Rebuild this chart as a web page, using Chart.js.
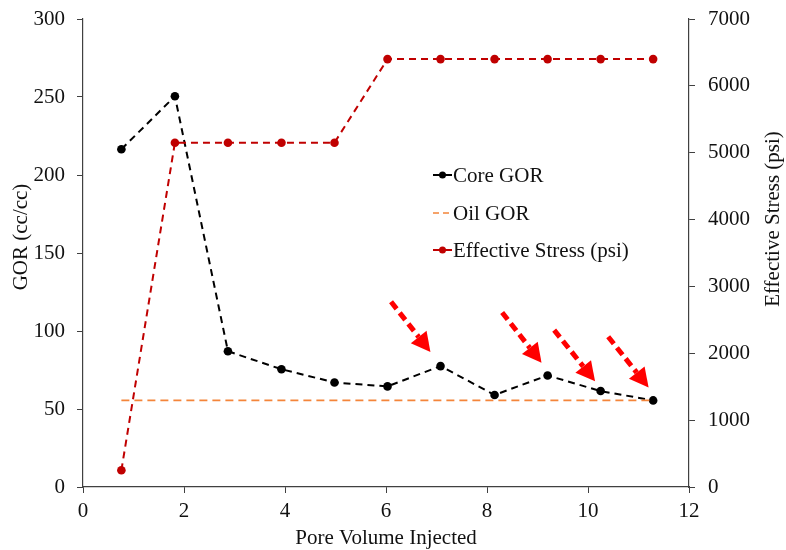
<!DOCTYPE html>
<html>
<head>
<meta charset="utf-8">
<script src="https://cdn.jsdelivr.net/npm/chart.js@4"></script>
<style>
  html, body { margin: 0; padding: 0; background: #ffffff; }
  #wrap { width: 786px; height: 550px; }
</style>
</head>
<body>
<div id="wrap"><canvas id="c" width="786" height="550"></canvas></div>
<script>
// ---- data ----
const poreVolume = [0.76, 1.82, 2.87, 3.93, 4.98, 6.03, 7.08, 8.15, 9.2, 10.25, 11.29];
const coreGor = [216.5, 250.5, 87, 75.5, 67, 64.5, 77.5, 59, 71.5, 61.5, 55.5];
const effectiveStress = [250, 5150, 5150, 5150, 5150, 6400, 6400, 6400, 6400, 6400, 6400];
const oilGor = 55.5;
const xTicks = [0, 2, 4, 6, 8, 10, 12];
const gorTicks = [0, 50, 100, 150, 200, 250, 300];
const stressTicks = [0, 1000, 2000, 3000, 4000, 5000, 6000, 7000];
const seriesNames = ['Core GOR', 'Oil GOR', 'Effective Stress (psi)'];
const axisTitles = { x: 'Pore Volume Injected', y: 'GOR (cc/cc)', y1: 'Effective Stress (psi)' };
// annotation arrows (tail -> tip) in data units of x / GOR axis
const arrowTailX = [6.10, 8.30, 9.33, 10.40];
const arrowTailY = [118.7, 111.9, 100.6, 96.3];
const arrowTipX = [6.88, 9.08, 10.14, 11.20];
const arrowTipY = [86.6, 79.6, 67.8, 63.8];

const FONT = '"Liberation Serif", "Times New Roman", serif';
const AXIS_COLOR = '#404040';
const TEXT_COLOR = '#111111';

const pts = (xs, ys) => xs.map((x, i) => ({ x: x, y: ys[i] }));

const customDraw = {
  id: 'customDraw',
  afterDatasetsDraw(chart) {
    const ctx = chart.ctx;
    const xs = chart.scales.x, ys = chart.scales.y;
    ctx.save();
    for (let i = 0; i < arrowTailX.length; i++) {
      const x0 = xs.getPixelForValue(arrowTailX[i]), y0 = ys.getPixelForValue(arrowTailY[i]);
      const x1 = xs.getPixelForValue(arrowTipX[i]), y1 = ys.getPixelForValue(arrowTipY[i]);
      const ang = Math.atan2(y1 - y0, x1 - x0);
      const headLen = 19, headW = 10;
      const bx = x1 - headLen * Math.cos(ang), by = y1 - headLen * Math.sin(ang);
      ctx.strokeStyle = '#FF0000';
      ctx.fillStyle = '#FF0000';
      ctx.lineWidth = 5;
      ctx.setLineDash([9, 5]);
      ctx.beginPath();
      ctx.moveTo(x0, y0);
      ctx.lineTo(bx, by);
      ctx.stroke();
      ctx.setLineDash([]);
      ctx.beginPath();
      ctx.moveTo(x1, y1);
      ctx.lineTo(bx + headW * Math.sin(ang), by - headW * Math.cos(ang));
      ctx.lineTo(bx - headW * Math.sin(ang), by + headW * Math.cos(ang));
      ctx.closePath();
      ctx.fill();
    }
    ctx.restore();
  },
  afterDraw(chart) {
    const ctx = chart.ctx;
    ctx.save();
    ctx.fillStyle = TEXT_COLOR;
    ctx.font = '21px ' + FONT;
    ctx.textAlign = 'center';
    ctx.textBaseline = 'middle';
    ctx.fillText(axisTitles.x, 386, 538);
    ctx.save();
    ctx.translate(21, 237);
    ctx.rotate(-Math.PI / 2);
    ctx.fillText(axisTitles.y, 0, 0);
    ctx.restore();
    ctx.save();
    ctx.translate(773, 219);
    ctx.rotate(-Math.PI / 2);
    ctx.fillText(axisTitles.y1, 0, 0);
    ctx.restore();
    // legend
    const ds = chart.data.datasets;
    const lx = 433, ly = [175, 213, 250];
    ctx.textAlign = 'left';
    for (let i = 0; i < ds.length; i++) {
      const d = ds[i];
      ctx.strokeStyle = d.borderColor;
      ctx.lineWidth = d.borderWidth;
      ctx.setLineDash(i === 1 ? [6, 4] : []);
      ctx.beginPath();
      ctx.moveTo(lx, ly[i]);
      ctx.lineTo(lx + 19, ly[i]);
      ctx.stroke();
      ctx.setLineDash([]);
      if (d.pointRadius > 0) {
        ctx.fillStyle = d.pointBackgroundColor;
        ctx.beginPath();
        ctx.arc(lx + 9.5, ly[i], 3.5, 0, Math.PI * 2);
        ctx.fill();
      }
      ctx.fillStyle = TEXT_COLOR;
      ctx.fillText(d.label, lx + 20, ly[i] + 1);
    }
    ctx.restore();
  }
};

const tickFont = { family: FONT, size: 21 };
const plain = v => String(v);
const fitV = w => s => { s.width = w; s.paddingTop = 0; s.paddingBottom = 0; };

new Chart(document.getElementById('c'), {
  type: 'line',
  data: {
    datasets: [
      {
        label: seriesNames[0],
        data: pts(poreVolume, coreGor),
        yAxisID: 'y',
        borderColor: '#000000',
        backgroundColor: '#000000',
        pointBackgroundColor: '#000000',
        pointBorderColor: '#000000',
        borderWidth: 2,
        borderDash: [7, 5],
        pointRadius: 4.3,
        pointBorderWidth: 0,
        tension: 0,
        order: 3
      },
      {
        label: seriesNames[1],
        data: [{ x: poreVolume[0], y: oilGor }, { x: poreVolume[poreVolume.length - 1], y: oilGor }],
        yAxisID: 'y',
        borderColor: '#F4853A',
        backgroundColor: '#F4853A',
        borderWidth: 1.6,
        borderDash: [8, 5],
        pointRadius: 0,
        tension: 0,
        order: 2
      },
      {
        label: seriesNames[2],
        data: pts(poreVolume, effectiveStress),
        yAxisID: 'y1',
        borderColor: '#C00000',
        backgroundColor: '#C00000',
        pointBackgroundColor: '#C00000',
        pointBorderColor: '#C00000',
        borderWidth: 2,
        borderDash: [7, 5],
        pointRadius: 4.3,
        pointBorderWidth: 0,
        tension: 0,
        order: 1
      }
    ]
  },
  options: {
    responsive: false,
    animation: false,
    events: [],
    layout: { padding: { top: 19, left: 0, right: 0, bottom: 0 } },
    plugins: { legend: { display: false }, tooltip: { enabled: false }, title: { display: false } },
    scales: {
      x: {
        type: 'linear',
        min: 0, max: 12,
        afterBuildTicks: s => { s.ticks = xTicks.map(v => ({ value: v })); },
        afterFit: s => { s.height = 63; s.paddingLeft = 0; s.paddingRight = 0; },
        grid: { display: true, drawOnChartArea: false, drawTicks: true, tickLength: 6, color: AXIS_COLOR, lineWidth: 1 },
        border: { display: true, color: AXIS_COLOR, width: 1.2 },
        ticks: { font: tickFont, color: TEXT_COLOR, padding: 6, maxRotation: 0, callback: plain }
      },
      y: {
        type: 'linear',
        position: 'left',
        min: 0, max: 300,
        afterBuildTicks: s => { s.ticks = gorTicks.map(v => ({ value: v })); },
        afterFit: fitV(83),
        grid: { display: true, drawOnChartArea: false, drawTicks: true, tickLength: 6, color: AXIS_COLOR, lineWidth: 1 },
        border: { display: true, color: AXIS_COLOR, width: 1.2 },
        ticks: { font: tickFont, color: TEXT_COLOR, padding: 12, callback: plain }
      },
      y1: {
        type: 'linear',
        position: 'right',
        min: 0, max: 7000,
        afterBuildTicks: s => { s.ticks = stressTicks.map(v => ({ value: v })); },
        afterFit: fitV(97),
        grid: { display: true, drawOnChartArea: false, drawTicks: true, tickLength: 6, color: AXIS_COLOR, lineWidth: 1 },
        border: { display: true, color: AXIS_COLOR, width: 1.2 },
        ticks: { font: tickFont, color: TEXT_COLOR, padding: 13, callback: plain }
      }
    }
  },
  plugins: [customDraw]
});
</script>
</body>
</html>
